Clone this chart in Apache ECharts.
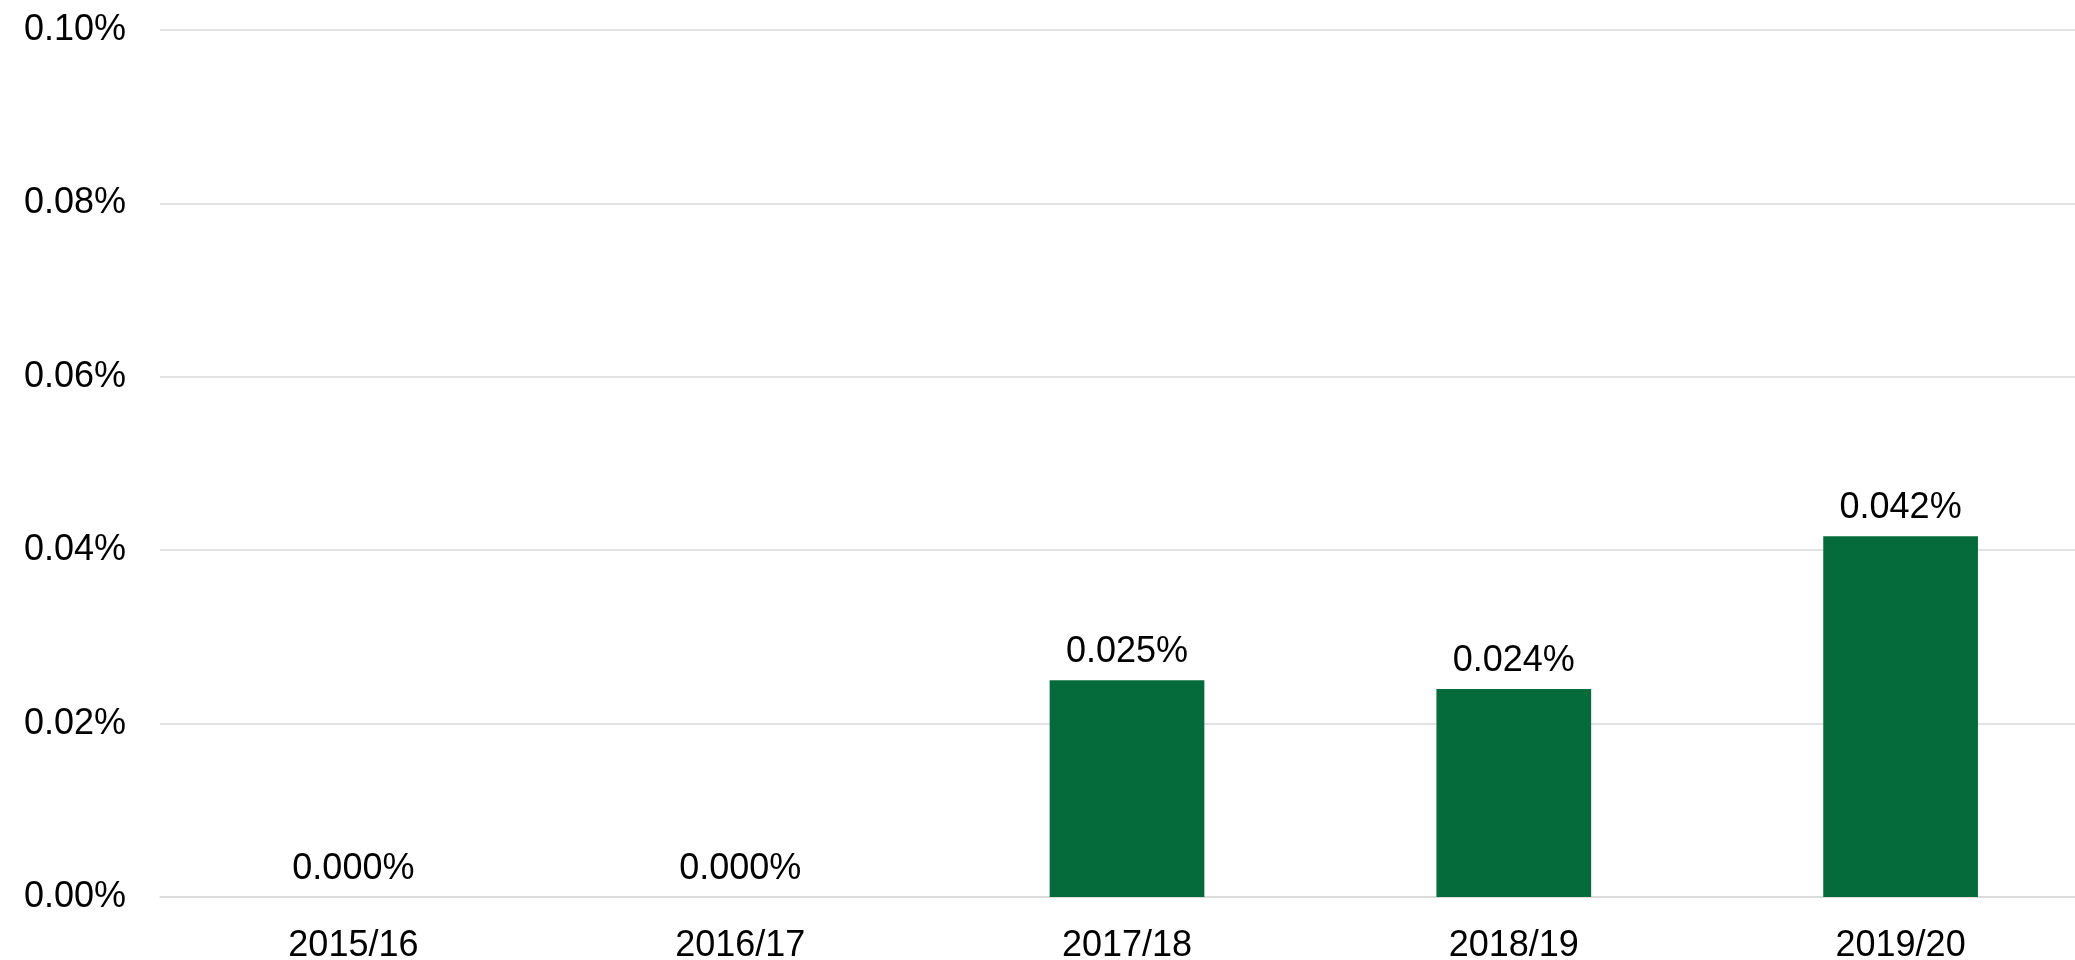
<!DOCTYPE html>
<html>
<head>
<meta charset="utf-8">
<script src="https://cdn.jsdelivr.net/npm/echarts@6/dist/echarts.min.js"></script>
<style>
* {
  padding: 0;
  margin: 0;
}
</style>
</head>
<body>
<div id="chart" style="width: 2075px; height: 960px"></div>
<script>
// years on the x axis
var years = ["2015/16", "2016/17", "2017/18", "2018/19", "2019/20"];
// share in percent
var shares = [0, 0, 0.025, 0.024, 0.0416];
var yTicks = [0, 0.02, 0.04, 0.06, 0.08, 0.1];

var chart = echarts.init(document.getElementById("chart"));
chart.setOption({
  animation: false,
  textStyle: {
    fontFamily: "Liberation Sans",
  },
  grid: {
    left: 160,
    right: -19,
    top: 30,
    bottom: 63,
    outerBoundsMode: "none",
  },
  xAxis: {
    type: "category",
    data: years,
    axisTick: { show: false },
    axisLine: {
      lineStyle: { color: "#d9d9d9", width: 1.5 },
    },
    axisLabel: {
      color: "#000",
      fontSize: 36,
      margin: 31,
    },
  },
  yAxis: {
    type: "value",
    min: yTicks[0],
    max: yTicks[yTicks.length - 1],
    interval: 0.02,
    axisLine: { show: false },
    axisTick: { show: false },
    splitLine: {
      lineStyle: { color: "#d9d9d9", width: 1.5 },
    },
    axisLabel: {
      color: "#000",
      fontSize: 36,
      margin: 34,
      padding: [8, 0, 0, 0],
      formatter: function (v) {
        return v.toFixed(2) + "%";
      },
    },
  },
  series: [
    {
      type: "bar",
      data: shares,
      barWidth: "40%",
      itemStyle: { color: "#066b3a" },
      label: {
        show: true,
        position: "top",
        distance: 10,
        color: "#000",
        fontSize: 36,
        formatter: function (p) {
          return p.value.toFixed(3) + "%";
        },
      },
    },
  ],
});
</script>
</body>
</html>
